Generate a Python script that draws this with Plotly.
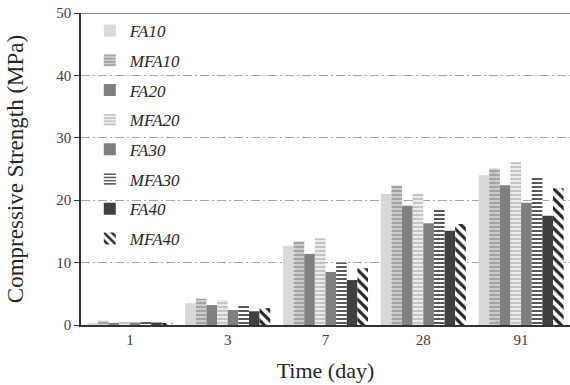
import plotly.graph_objects as go

# Curing ages (days) and compressive strength (MPa) of each mix
ages = ["1", "3", "7", "28", "91"]
mixes = ["FA10", "MFA10", "FA20", "MFA20", "FA30", "MFA30", "FA40", "MFA40"]

fa10 = [0.35, 3.5, 12.7, 21.0, 24.0]
mfa10 = [0.7, 4.2, 13.4, 22.3, 25.1]
fa20 = [0.35, 3.2, 11.4, 19.1, 22.4]
mfa20 = [0.5, 4.0, 13.9, 21.0, 26.1]
fa30 = [0.4, 2.4, 8.5, 16.3, 19.6]
mfa30 = [0.5, 3.2, 10.0, 18.7, 23.7]
fa40 = [0.4, 2.2, 7.2, 15.1, 17.5]
mfa40 = [0.2, 2.7, 9.1, 16.2, 21.9]

values = [fa10, mfa10, fa20, mfa20, fa30, mfa30, fa40, mfa40]

# Fill styling per mix: (base colour, pattern shape, pattern fg, pattern bg, size, solidity)
styles = [
    ("#d9d9d9", "", None, None, None, None),
    ("#b0b0b0", "-", "#a3a3a3", "#cdcdcd", 4, 0.5),
    ("#808080", "", None, None, None, None),
    ("#dcdcdc", "-", "#c4c4c4", "#ececec", 4, 0.5),
    ("#7f7f7f", "", None, None, None, None),
    ("#8a8a8a", "-", "#595959", "#ffffff", 4, 0.5),
    ("#404040", "", None, None, None, None),
    ("#ffffff", "\\", "#262626", "#ffffff", 7, 0.45),
]

fig = go.Figure()
for name, vals, (col, shape, fg, bg, size, sol) in zip(mixes, values, styles):
    marker = dict(color=col, line=dict(width=0))
    if shape:
        marker["pattern"] = dict(shape=shape, fgcolor=fg, bgcolor=bg,
                                 size=size, solidity=sol, fillmode="replace")
    fig.add_trace(go.Bar(x=ages, y=vals, name=name, marker=marker,
                         legendgroup=name))

serif = "Liberation Serif"

fig.update_layout(
    width=570, height=385,
    margin=dict(l=81, r=0, t=13, b=60),
    paper_bgcolor="white", plot_bgcolor="white",
    barmode="group", bargap=0.13, bargroupgap=0,
    font=dict(family=serif, color="#262626"),
    showlegend=True,
    legend=dict(
        x=0.018, y=1.0, xanchor="left", yanchor="top",
        bgcolor="rgba(0,0,0,0)", borderwidth=0,
        font=dict(family=serif, size=17, color="#262626", style="italic"),
        tracegroupgap=4.6,
    ),
    xaxis=dict(
        type="category",
        showline=True, linecolor="#333333", linewidth=1.5,
        ticks="", showgrid=False,
        tickfont=dict(family=serif, size=15, color="#404040"),
        title=dict(text="Time (day)", font=dict(family=serif, size=22, color="#262626"),
                   standoff=16),
        automargin=False,
    ),
    yaxis=dict(
        range=[0, 50], dtick=10,
        showline=True, linecolor="#333333", linewidth=1.5,
        ticks="outside", ticklen=5, tickcolor="#333333",
        showgrid=True, gridcolor="#a6a6a6", gridwidth=1,
        griddash="9px,3px,2px,3px",
        zeroline=False,
        tickfont=dict(family=serif, size=15, color="#404040"),
        title=dict(text="Compressive Strength (MPa)",
                   font=dict(family=serif, size=23, color="#262626"),
                   standoff=26),
        automargin=False,
    ),
)

# Solid upper boundary of the plotting area
fig.add_shape(type="line", xref="paper", yref="y", x0=0, x1=1, y0=50, y1=50,
              line=dict(color="#8c8c8c", width=2), layer="above")

fig.write_html("out.html")
